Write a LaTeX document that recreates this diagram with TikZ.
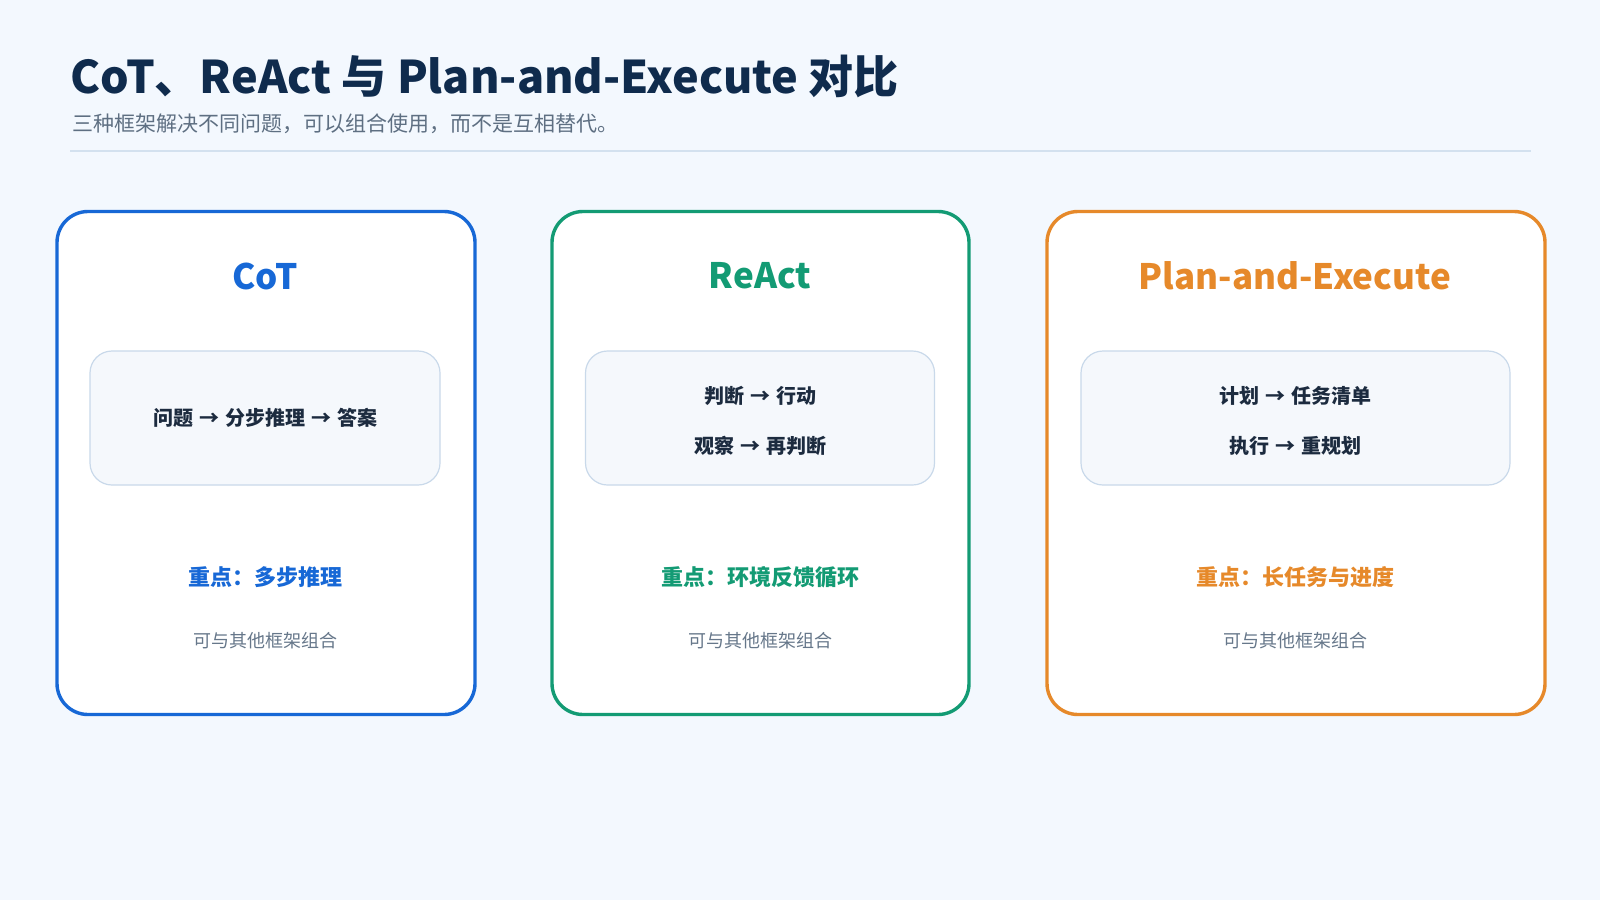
\documentclass[tikz,border=0pt]{standalone}
\usepackage{fontspec}
\setmainfont{Noto Sans CJK SC}
\definecolor{pagebg}{HTML}{F3F8FE}
\definecolor{titlenavy}{HTML}{0F2B4D}
\definecolor{subgray}{HTML}{5E6F82}
\definecolor{ruleline}{HTML}{D3E1EF}
\definecolor{cotblue}{HTML}{1768D6}
\definecolor{reactgreen}{HTML}{139B74}
\definecolor{planorange}{HTML}{E6892A}
\definecolor{boxfill}{HTML}{F5F8FC}
\definecolor{boxline}{HTML}{C9D9EA}
\definecolor{flowtext}{HTML}{1C2B3F}
\definecolor{notegray}{HTML}{66778A}
\newcommand{\flowto}{\hspace{6pt}→\hspace{6pt}}
\tikzset{
  card/.style={draw=#1, line width=3.4pt, fill=white, rounded corners=31pt,
    minimum height=503pt, inner sep=0pt},
  flowbox/.style={draw=boxline, line width=1.2pt, fill=boxfill, rounded corners=22pt,
    minimum height=134pt, inner sep=0pt},
  cardtitle/.style={text=#1, font=\fontsize{35}{40}\selectfont\bfseries},
  flowline/.style={text=flowtext, font=\fontsize{20}{24}\selectfont\bfseries},
  focus/.style={text=#1, font=\fontsize{22}{26}\selectfont\bfseries},
  note/.style={text=notegray, font=\fontsize{18}{22}\selectfont}
}
\begin{document}
\begin{tikzpicture}[x=1pt,y=-1pt]
 \fill[pagebg] (0,0) rectangle (1600,900);
 % heading
 \node[anchor=west, text=titlenavy, font=\fontsize{45}{50}\selectfont\bfseries] (title) at (67,76) {CoT、ReAct 与 Plan-and-Execute 对比};
 \node[anchor=west, text=subgray, font=\fontsize{21}{25}\selectfont] (subtitle) at (69,124) {三种框架解决不同问题，可以组合使用，而不是互相替代。};
 \coordinate (ruleL) at (70,151);
 \coordinate (ruleR) at (1531,151);
 \draw[ruleline, line width=1.5pt] (ruleL) -- (ruleR);
 % CoT
 \node[card=cotblue, minimum width=418pt] (cot) at (266,463) {};
 \node[cardtitle=cotblue] (cottitle) at (265,276) {CoT};
 \node[flowbox, minimum width=350pt] (cotbox) at (265,418) {};
 \node[flowline] (cotflow) at (265,418) {问题\flowto 分步推理\flowto 答案};
 \node[focus=cotblue] (cotfocus) at (265,577) {重点：多步推理};
 \node[note] (cotnote) at (265,641) {可与其他框架组合};
 % ReAct
 \node[card=reactgreen, minimum width=417pt] (react) at (760.5,463) {};
 \node[cardtitle=reactgreen] (reacttitle) at (760,276) {ReAct};
 \node[flowbox, minimum width=349pt] (reactbox) at (760,418) {};
 \node[flowline] (reactflowa) at (760,396) {判断\flowto 行动};
 \node[flowline] (reactflowb) at (760,446) {观察\flowto 再判断};
 \node[focus=reactgreen] (reactfocus) at (760,577) {重点：环境反馈循环};
 \node[note] (reactnote) at (760,641) {可与其他框架组合};
 % Plan-and-Execute
 \node[card=planorange, minimum width=498pt] (plan) at (1296,463) {};
 \node[cardtitle=planorange] (plantitle) at (1295,276) {Plan-and-Execute};
 \node[flowbox, minimum width=429pt] (planbox) at (1295.5,418) {};
 \node[flowline] (planflowa) at (1295,396) {计划\flowto 任务清单};
 \node[flowline] (planflowb) at (1295,446) {执行\flowto 重规划};
 \node[focus=planorange] (planfocus) at (1295,577) {重点：长任务与进度};
 \node[note] (plannote) at (1295,641) {可与其他框架组合};
\end{tikzpicture}
\end{document}
